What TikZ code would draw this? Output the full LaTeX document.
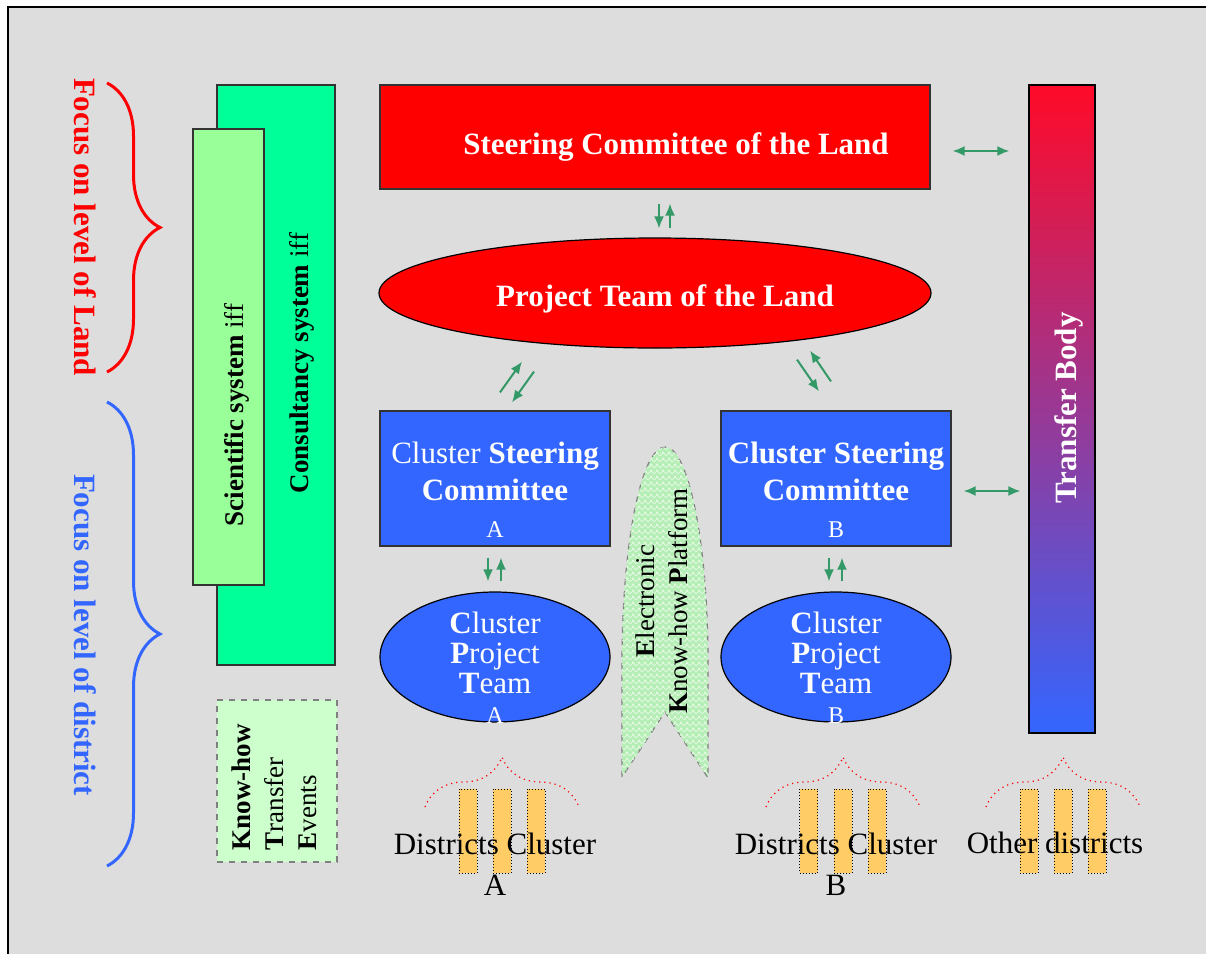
\documentclass[tikz,border=0pt]{standalone}
\usepackage{fontspec}
\setmainfont{Liberation Serif}
\usetikzlibrary{shapes,arrows.meta,calc,decorations.pathreplacing,patterns}

\definecolor{bggray}{HTML}{DDDDDD}
\definecolor{landred}{HTML}{FF0000}
\definecolor{clusterblue}{HTML}{3366FF}
\definecolor{consgreen}{HTML}{00FF99}
\definecolor{scigreen}{HTML}{99FF99}
\definecolor{ktegreen}{HTML}{CCFFCC}
\definecolor{platgreen}{HTML}{B4EEB4}
\definecolor{flowgreen}{HTML}{339966}
\definecolor{distorange}{HTML}{FFCC66}
\definecolor{tbred}{HTML}{FF0A28}

\newcommand{\bigtext}{\fontsize{15.5}{18.5}\selectfont}
\newcommand{\smalltext}{\fontsize{13.5}{16.5}\selectfont}
\newcommand{\lettertext}{\fontsize{12}{14}\selectfont}

\begin{document}
\begin{tikzpicture}[
    x=0.5pt, y=-0.5pt,
    box/.style={rectangle, draw=black!80, line width=0.6pt, inner sep=0pt},
    landbox/.style={box, fill=landred},
    landell/.style={ellipse, draw=black, line width=0.6pt, fill=landred, inner sep=0pt},
    landtext/.style={text=white, font=\bigtext\bfseries, inner sep=0pt},
    clbox/.style={box, fill=clusterblue, minimum width=115pt, minimum height=67.5pt},
    clell/.style={ellipse, draw=black, line width=0.6pt, fill=clusterblue, inner sep=0pt, minimum width=115pt, minimum height=65pt},
    cltext/.style={text=white, font=\bigtext, align=center, inner sep=0pt},
    cptext/.style={text=white, font=\fontsize{15.5}{15}\selectfont, align=center, inner sep=0pt},
    vtext/.style={rotate=90, align=center, inner sep=0pt, font=\smalltext},
    focustext/.style={rotate=-90, font=\bigtext\bfseries, inner sep=0pt},
    focusbrace/.style={decorate, decoration={brace, amplitude=26.5pt}, line width=1.5pt},
    flow/.style={-{Latex[length=6pt, width=5pt]}, draw=flowgreen, line width=1pt},
    dflow/.style={{Latex[length=6pt, width=5pt]}-{Latex[length=6pt, width=5pt]}, draw=flowgreen, line width=1pt},
    district/.style={rectangle, draw=black, densely dotted, fill=distorange, minimum width=9pt, minimum height=42pt, inner sep=0pt, line width=0.5pt},
    distbrace/.style={decorate, decoration={brace, amplitude=25pt}, draw=red, dotted, line width=0.6pt},
    distlabel/.style={align=center, font=\fontsize{15.5}{20.5}\selectfont, inner sep=0pt}
]

% Page and frame
\useasboundingbox (0,0) rectangle (1206,954);
\clip (0,0) rectangle (1206,954);
\draw[fill=bggray, line width=1pt] (8,7) rectangle (1230,980);

% Focus braces
\draw[focusbrace, draw=landred] (107,83) -- (107,372);
\draw[focusbrace, draw=clusterblue] (107,402) -- (107,866);
\node[focustext, text=landred] (flland) at (85,227) {Focus on level of Land};
\node[focustext, text=clusterblue] (fldist) at (85,635) {Focus on level of district};

% Support systems
\node[box, fill=consgreen, minimum width=59pt, minimum height=290pt] (cons) at (276,375) {};
\node[box, fill=scigreen, minimum width=35.5pt, minimum height=228pt] (sci) at (228.5,357) {};
\node[vtext] (constext) at (302,363) {\textbf{Consultancy system} iff};
\node[vtext] (scitext) at (237,415) {\textbf{Scientific system} iff};
\node[box, draw=gray, dashed, fill=ktegreen, minimum width=60pt, minimum height=81pt] (kte) at (277,781) {};
\node[vtext, align=left] (ktetext) at (274,787) {\textbf{Know-how}\\\textbf{T}ransfer\\\textbf{E}vents};

% Land level
\node[landbox, minimum width=275pt, minimum height=52pt,
      label={[landtext, xshift=10.5pt, yshift=-5pt]center:Steering Committee of the Land}] (scl) at (655,137) {};
\node[landell, minimum width=276pt, minimum height=55pt,
      label={[landtext, xshift=5pt, yshift=-3pt]center:Project Team of the Land}] (ptl) at (655,293) {};

% Cluster level
\node[clbox, label={[cltext, yshift=-5.5pt]center:{Cluster \textbf{Steering}\\\textbf{Committee}\\{\lettertext A}}}] (csa) at (495,478.5) {};
\node[clbox, label={[cltext, yshift=-5.5pt]center:{\textbf{Cluster Steering}\\\textbf{Committee}\\{\lettertext B}}}] (csb) at (836,478.5) {};
\node[clell, label={[cptext, yshift=-5.5pt]center:{\textbf{C}luster\\\textbf{P}roject\\\textbf{T}eam\\{\lettertext A}}}] (cpa) at (495,657) {};
\node[clell, label={[cptext, yshift=-5.5pt]center:{\textbf{C}luster\\\textbf{P}roject\\\textbf{T}eam\\{\lettertext B}}}] (cpb) at (836,657) {};

% Electronic platform
\draw[draw=gray, dashed, line width=0.6pt, fill=platgreen, postaction={pattern=crosshatch, pattern color=white!60!platgreen}]
    (622,777) -- (622,663) arc[start angle=180, end angle=270, x radius=43, y radius=216]
    arc[start angle=270, end angle=360, x radius=43, y radius=216] -- (708,778) -- (665,712) -- cycle;
\node[vtext, font=\smalltext] (plattext) at (662,601) {\textbf{E}lectronic\\\textbf{K}now-how \textbf{P}latform};

% Transfer body
\node[box, draw=black, top color=tbred, bottom color=clusterblue, minimum width=33pt, minimum height=324pt] (tb) at (1062,409) {};
\node[vtext, font=\bigtext\bfseries, text=white] (tbtext) at (1069,408) {Transfer Body};

% Districts
\foreach \x [count=\i] in {468,502,536} \node[district] (da\i) at (\x,831) {};
\foreach \x [count=\i] in {808.5,843,877} \node[district] (db\i) at (\x,831) {};
\foreach \x [count=\i] in {1029,1063,1097} \node[district] (do\i) at (\x,831) {};
\draw[distbrace] (425,807) -- (579,807);
\draw[distbrace] (766,807) -- (920,807);
\draw[distbrace] (986,807) -- (1140,807);
\node[distlabel] (dla) at (495,864) {Districts Cluster\\A};
\node[distlabel] (dlb) at (836,864) {Districts Cluster\\B};
\node[distlabel] (dlo) at (1055,843) {Other districts};

% Flows
\draw[flow] ($(scl.south)+(4,14)$) -- ($(ptl.north)+(4,-9)$);
\draw[flow] ($(ptl.north)+(15,-9)$) -- ($(scl.south)+(15,14)$);
\draw[flow] ($(csa.north)+(5,-18)$) -- ($(ptl.south)+(-133,13)$);
\draw[flow] ($(ptl.south)+(-121,23)$) -- ($(csa.north)+(17,-8)$);
\draw[flow] ($(ptl.south)+(142,11)$) -- ($(csb.north)+(-17,-19)$);
\draw[flow] ($(csb.north)+(-5,-29)$) -- ($(ptl.south)+(155,2)$);
\draw[flow] ($(csa.south)+(-7,11)$) -- ($(cpa.north)+(-7,-10)$);
\draw[flow] ($(cpa.north)+(6,-10)$) -- ($(csa.south)+(6,11)$);
\draw[flow] ($(csb.south)+(-7,11)$) -- ($(cpb.north)+(-7,-10)$);
\draw[flow] ($(cpb.north)+(6,-10)$) -- ($(csb.south)+(6,11)$);
\draw[dflow] ($(scl.east)+(22,14)$) -- ($(scl.east -| tb.west)+(-19,14)$);
\draw[dflow] ($(csb.east)+(12,12.5)$) -- ($(csb.east -| tb.west)+(-8,12.5)$);

\end{tikzpicture}
\end{document}
